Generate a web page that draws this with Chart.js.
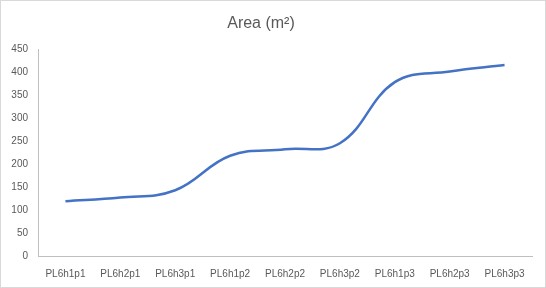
<!DOCTYPE html>
<html>
<head>
<meta charset="utf-8">
<script src="https://cdn.jsdelivr.net/npm/chart.js@4"></script>
<style>
html,body{margin:0;padding:0;background:#fff;}
#wrap{width:546px;height:288px;box-sizing:border-box;border:1px solid #D9D9D9;position:relative;background:#fff;}
canvas{display:block;}
</style>
</head>
<body>
<div id="wrap"><canvas id="c" width="544" height="286"></canvas></div>
<script>
const categories = ["PL6h1p1","PL6h2p1","PL6h3p1","PL6h1p2","PL6h2p2","PL6h3p2","PL6h1p3","PL6h2p3","PL6h3p3"];
const areaValues = [119, 127, 143, 218, 232, 245, 378, 401, 415];
const chartTitle = "Area (m\u00B2)";
const yMin = 0, yMax = 450, yStep = 50;

const titlePlugin = {
  id: 'customTitle',
  afterDraw(chart) {
    const ctx = chart.ctx;
    ctx.save();
    ctx.font = '16px "Liberation Sans", Arial, sans-serif';
    ctx.fillStyle = '#595959';
    ctx.textAlign = 'center';
    ctx.textBaseline = 'alphabetic';
    ctx.fillText(chartTitle, 260, 27);
    ctx.restore();
  }
};

new Chart(document.getElementById('c'), {
  type: 'line',
  data: {
    labels: categories,
    datasets: [{
      data: areaValues,
      borderColor: '#4472C4',
      borderWidth: 2.5,
      pointRadius: 0,
      tension: 0.4,
      fill: false
    }]
  },
  options: {
    responsive: false,
    animation: false,
    devicePixelRatio: 1,
    layout: { padding: { top: 48, right: 13, left: 0, bottom: 0 } },
    plugins: { legend: { display: false }, title: { display: false }, tooltip: { enabled: false } },
    scales: {
      x: {
        offset: true,
        grid: { display: false, drawTicks: false },
        border: { display: true, color: '#BFBFBF', width: 1 },
        ticks: { color: '#595959', font: { family: '"Liberation Sans", Arial, sans-serif', size: 10 }, padding: 12, maxRotation: 0, autoSkip: false },
        afterFit(scale) { scale.height = 31; }
      },
      y: {
        min: yMin, max: yMax,
        grid: { display: false, drawTicks: false },
        border: { display: true, color: '#BFBFBF', width: 1 },
        ticks: { stepSize: yStep, color: '#595959', font: { family: '"Liberation Sans", Arial, sans-serif', size: 10 }, padding: 10 },
        afterFit(scale) { scale.width = 37; }
      }
    }
  },
  plugins: [titlePlugin]
});
</script>
</body>
</html>
